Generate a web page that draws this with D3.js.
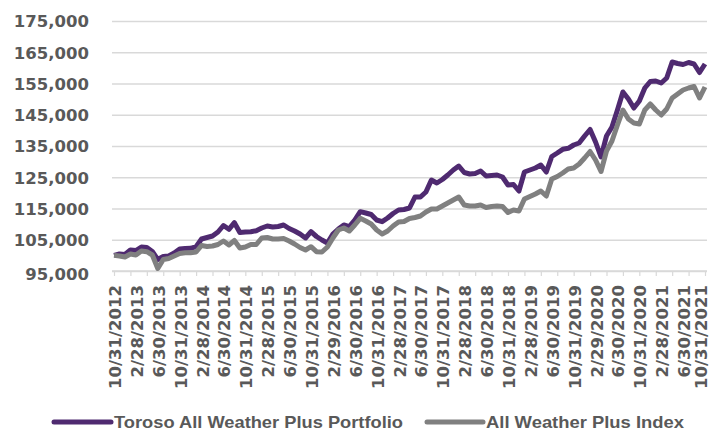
<!DOCTYPE html>
<html lang="en">
<head>
<meta charset="utf-8">
<title>Toroso All Weather Plus</title>
<script src="https://d3js.org/d3.v7.min.js"></script>
<style>
  body { margin: 0; background: #fff; }
  .tick text { font-family: "DejaVu Sans", sans-serif; font-weight: bold; font-size: 16.5px; fill: #595959; }
  .legend text { font-family: "Liberation Sans Narrow", "Arial Narrow", "Liberation Sans", sans-serif; font-weight: bold; font-size: 16.5px; fill: #595959; }
  .line { fill: none; stroke-width: 5px; stroke-linejoin: round; }
</style>
</head>
<body>
<svg width="710" height="432"></svg>
<script>
// month-end values, 10/2012 .. 10/2021
var portfolio = [
  100000,100440,100280,101720,101560,102680,102520,101240,98680,99640,99800,100760,
  102040,102200,102260,102780,105240,105720,106200,107480,109560,108340,110460,107320,
  107480,107580,107900,108760,109400,109080,109240,109720,108600,107800,106840,105560,
  107580,106040,104920,103960,106840,108440,109720,109180,111320,113980,113560,113080,
  111320,110780,111960,113400,114520,114680,115160,118680,118680,120280,124120,123160,
  124280,125720,127320,128600,126520,126040,126200,127000,125400,125560,125720,125080,
  122520,122680,120600,126680,127320,127960,128920,126680,131640,132760,133940,134260,
  135320,135960,138200,140280,136280,131480,138200,141080,146520,152280,150040,147160,
  149400,153560,155640,155800,155160,156760,161880,161400,161080,161720,161240,158520,
  161240
];
var benchmark = [
  100000,99800,99480,100440,100120,101400,101180,100120,95800,98680,99000,99800,
  100600,100860,100860,101080,103160,102840,103000,103480,104600,103320,104760,102360,
  102680,103480,103480,105560,105720,105240,105240,105400,104600,103640,102520,101720,
  102780,101180,101080,102680,105560,108120,108760,107800,109720,111860,111000,110040,
  108120,106840,107800,109400,110680,110840,111800,112120,112600,113880,114840,114840,
  115800,116760,117720,118680,116120,115800,115800,116120,115320,115640,115800,115640,
  113720,114520,114200,118040,118840,119640,120600,119000,124440,125240,126360,127640,
  127960,129240,131160,133240,130520,126840,133400,136600,141720,146520,143640,142360,
  142040,146520,148440,146520,144920,146840,150360,151640,152920,153560,154040,150360,
  153880
];
var tickLabels = [
  "10/31/2012","2/28/2013","6/30/2013","10/31/2013","2/28/2014","6/30/2014","10/31/2014",
  "2/28/2015","6/30/2015","10/31/2015","2/29/2016","6/30/2016","10/31/2016","2/28/2017",
  "6/30/2017","10/31/2017","2/28/2018","6/30/2018","10/31/2018","2/28/2019","6/30/2019",
  "10/31/2019","2/29/2020","6/30/2020","10/31/2020","2/28/2021","6/30/2021","10/31/2021"
];
var yTicks = [95000,105000,115000,125000,135000,145000,155000,165000,175000];
var seriesNames = ["Toroso All Weather Plus Portfolio", "All Weather Plus Index"];
var colors = ["#4f2a70", "#808080"];

var svg = d3.select("svg");
var plotLeft = 112, plotRight = 707, plotTop = 21, plotBottom = 271;

var monthKey = d3.timeFormat("%Y-%m");
var months = portfolio.map((d, i) => monthKey(d3.timeMonth.offset(new Date(2012, 9, 1), i)));
var parseLabel = d3.timeParse("%m/%d/%Y");

var x = d3.scalePoint().domain(months).range([114, 705]);
var y = d3.scaleLinear().domain([95000, 175000]).range([plotBottom, plotTop]);

// gridlines + y labels
var yAxis = svg.append("g")
  .attr("transform", `translate(${plotLeft},0)`)
  .call(d3.axisLeft(y).tickValues(yTicks).tickFormat(d3.format(","))
    .tickSize(-(plotRight - plotLeft)).tickPadding(23));
yAxis.select(".domain").remove();
yAxis.selectAll(".tick line").attr("stroke", "#d9d9d9").attr("stroke-width", 1.5);
yAxis.selectAll(".tick text").attr("dy", "0.36em");
yAxis.selectAll(".tick").filter(d => d === 95000).select("text").attr("dy", "0.5em");

// x axis: tick marks every 3 months
var xAxis = svg.append("g")
  .attr("transform", `translate(0,${plotBottom})`)
  .call(d3.axisBottom(x).tickValues(months.filter((d, i) => i % 3 === 0))
    .tickSize(5).tickFormat(""));
xAxis.select(".domain").attr("stroke", "#d9d9d9").attr("stroke-width", 1.5)
  .attr("d", `M${plotLeft},0H${plotRight}`);
xAxis.selectAll(".tick line").attr("stroke", "#d9d9d9").attr("stroke-width", 1.2);

// rotated date labels every 4 months
var xl = svg.append("g").attr("class", "xlabels");
xl.selectAll("g").data(tickLabels).join("g")
  .attr("class", "tick")
  .attr("transform", d => `translate(${Math.min(x(monthKey(parseLabel(d))) + 1, 701)},${plotBottom + 14}) rotate(-90)`)
  .append("text")
  .attr("text-anchor", "end")
  .attr("dy", "0.36em")
  .text(d => d);

// series
var line = d3.line().x((d, i) => x(months[i])).y(d => y(d));
[portfolio, benchmark].forEach(function(s, k) {
  svg.append("path").datum(s)
    .attr("class", "line")
    .attr("stroke", colors[k])
    .attr("d", line);
});

// legend
var legend = svg.append("g").attr("class", "legend");
var legendPos = [{x1: 54, x2: 111, tx: 114, w: 289}, {x1: 427, x2: 483, tx: 486, w: 198}];
legendPos.forEach(function(p, k) {
  legend.append("line")
    .attr("x1", p.x1).attr("x2", p.x2).attr("y1", 422).attr("y2", 422)
    .attr("stroke", colors[k]).attr("stroke-width", 5).attr("stroke-linecap", "round");
  legend.append("text")
    .attr("x", p.tx).attr("y", 422).attr("dy", "0.35em")
    .attr("textLength", p.w).attr("lengthAdjust", "spacingAndGlyphs")
    .text(seriesNames[k]);
});
</script>
</body>
</html>
